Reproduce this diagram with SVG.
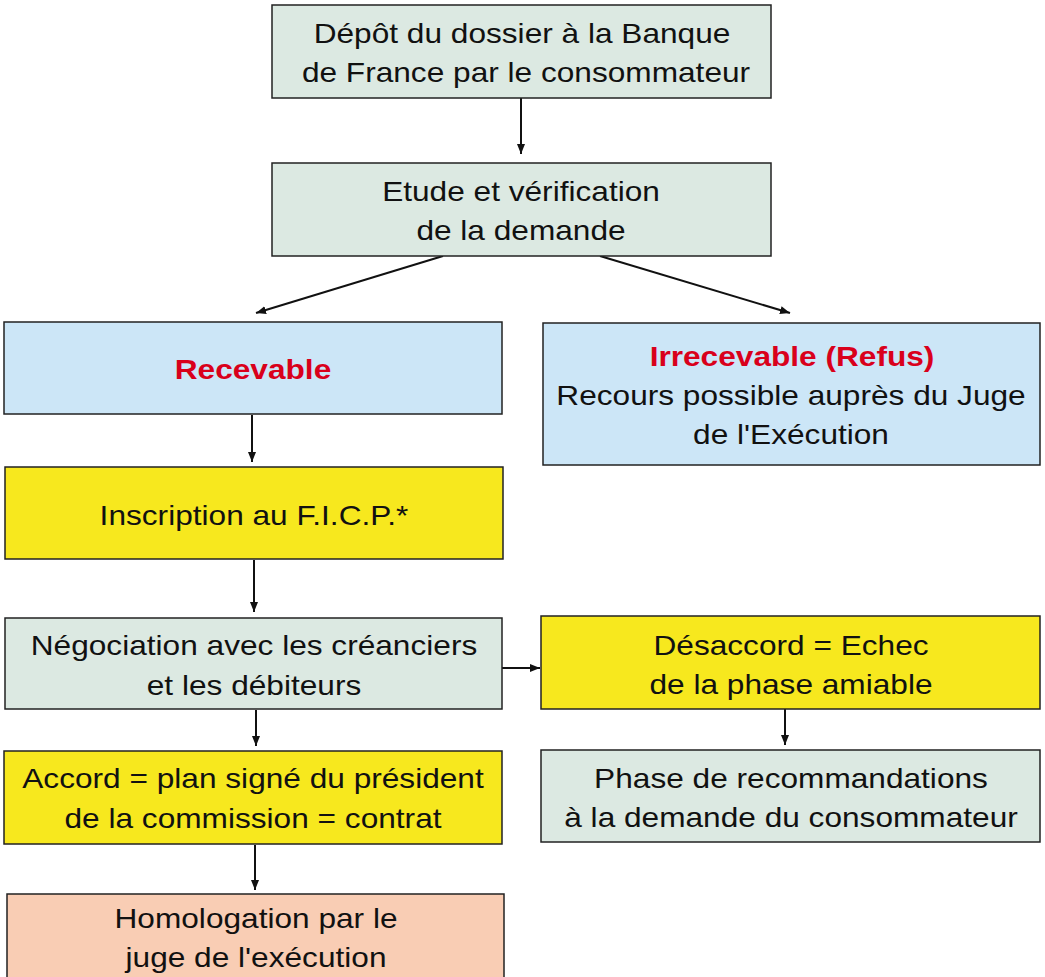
<svg xmlns="http://www.w3.org/2000/svg" width="1045" height="977" viewBox="0 0 1045 977">
<style>
.b{stroke:#222;stroke-width:1.5}
.g{fill:#dce9e2}.bl{fill:#cce6f7}.y{fill:#f7e81e}.p{fill:#f9cdb4}
text{font-family:"Liberation Sans",Arial,sans-serif;font-size:28px;fill:#111;text-anchor:middle}
.r{fill:#d9001b;font-weight:bold}
.c{stroke:#111;stroke-width:2;fill:none;marker-end:url(#a)}
</style>
<defs><marker id="a" viewBox="0 0 10 10" refX="10" refY="5" markerWidth="5" markerHeight="5" orient="auto" markerUnits="strokeWidth"><path d="M0,1 L10,5 L0,9 z" fill="#111"/></marker></defs>
<rect width="1045" height="977" fill="#fff"/>
<g id="connectors">
<line class="c" x1="521" y1="98" x2="521" y2="154"/>
<line class="c" x1="443" y1="256" x2="256" y2="313"/>
<line class="c" x1="600" y1="256" x2="790" y2="313"/>
<line class="c" x1="252" y1="415" x2="252" y2="462"/>
<line class="c" x1="254" y1="560" x2="254" y2="612"/>
<line class="c" x1="502" y1="668" x2="540" y2="668"/>
<line class="c" x1="785" y1="709" x2="785" y2="745"/>
<line class="c" x1="256" y1="710" x2="256" y2="746"/>
<line class="c" x1="255" y1="845" x2="255" y2="890"/>
</g>
<g id="n1"><rect class="b g" x="272" y="5" width="499" height="93"/><text transform="translate(522,43) scale(1.13,1)">Dépôt du dossier à la Banque</text><text transform="translate(526,82) scale(1.13,1)">de France par le consommateur</text></g>
<g id="n2"><rect class="b g" x="272" y="163" width="499" height="93"/><text transform="translate(521,201) scale(1.13,1)">Etude et vérification</text><text transform="translate(521,240) scale(1.13,1)">de la demande</text></g>
<g id="n3"><rect class="b bl" x="4" y="322" width="498" height="92"/><text class="r" transform="translate(253,379) scale(1.13,1)">Recevable</text></g>
<g id="n4"><rect class="b bl" x="543" y="323" width="497" height="142"/><text class="r" transform="translate(792,366) scale(1.13,1)">Irrecevable (Refus)</text><text transform="translate(791,405) scale(1.13,1)">Recours possible auprès du Juge</text><text transform="translate(791,444) scale(1.13,1)">de l'Exécution</text></g>
<g id="n5"><rect class="b y" x="5" y="467" width="498" height="92"/><text transform="translate(254,525) scale(1.13,1)">Inscription au F.I.C.P.*</text></g>
<g id="n6"><rect class="b g" x="5" y="618" width="497" height="91"/><text transform="translate(254,655) scale(1.13,1)">Négociation avec les créanciers</text><text transform="translate(254,695) scale(1.13,1)">et les débiteurs</text></g>
<g id="n7"><rect class="b y" x="541" y="616" width="499" height="93"/><text transform="translate(791,655) scale(1.13,1)">Désaccord = Echec</text><text transform="translate(791,694) scale(1.13,1)">de la phase amiable</text></g>
<g id="n8"><rect class="b g" x="541" y="750" width="499" height="92"/><text transform="translate(791,788) scale(1.13,1)">Phase de recommandations</text><text transform="translate(791,827) scale(1.13,1)">à la demande du consommateur</text></g>
<g id="n9"><rect class="b y" x="4" y="751" width="498" height="93"/><text transform="translate(253,788) scale(1.13,1)">Accord = plan signé du président</text><text transform="translate(253,828) scale(1.13,1)">de la commission = contrat</text></g>
<g id="n10"><rect class="b p" x="7" y="894" width="497" height="90"/><text transform="translate(256,928) scale(1.13,1)">Homologation par le</text><text transform="translate(256,967) scale(1.13,1)">juge de l'exécution</text></g>
</svg>
